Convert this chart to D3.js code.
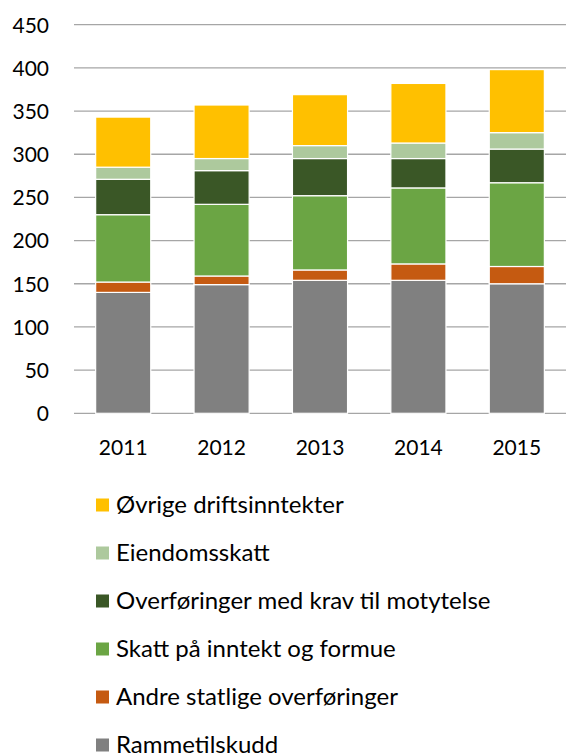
<!DOCTYPE html>
<html lang="no">
<head>
<meta charset="UTF-8">
<title>Driftsinntekter</title>
<script src="https://d3js.org/d3.v7.min.js"></script>
<style>
    body { margin: 0; background: #fff; font-family: Lato, "Open Sans", sans-serif; }
    .chart text { fill: #000; }
</style>
</head>
<body>
<div class="chart"></div>
<script>
    const years = ['2011', '2012', '2013', '2014', '2015'];
    const series = ['Rammetilskudd', 'Andre statlige overføringer', 'Skatt på inntekt og formue',
        'Overføringer med krav til motytelse', 'Eiendomsskatt', 'Øvrige driftsinntekter'];
    const colors = ['#808080', '#c55a11', '#6ba544', '#3a5726', '#adc99d', '#ffc000'];
    const rammetilskudd = [140, 149, 154, 154, 150];
    const andreStatlige = [12, 10, 12, 19, 20];
    const skatt = [78, 83, 86, 88, 97];
    const overforinger = [41, 39, 43, 34, 39];
    const eiendomsskatt = [14, 14, 15, 18, 19];
    const ovrige = [58, 62, 59, 69, 73];
    const yTicks = [0, 50, 100, 150, 200, 250, 300, 350, 400, 450];

    const values = [rammetilskudd, andreStatlige, skatt, overforinger, eiendomsskatt, ovrige];
    const rows = years.map((y, i) => {
        let r = {year: y};
        series.forEach((s, k) => r[s] = values[k][i]);
        return r;
    });

    const W = 566, H = 755;
    const svg = d3.select('.chart').append('svg').attr('width', W).attr('height', H);

    const x = d3.scaleBand().domain(years).range([74, 566]).paddingInner(0.44).paddingOuter(0.22);
    const y = d3.scaleLinear().domain([0, 450]).range([413.3, 24.7]);

    // grille
    svg.append('g').selectAll('line')
        .data(yTicks)
        .enter().append('line')
        .attr('x1', 74).attr('x2', 566)
        .attr('y1', d => y(d)).attr('y2', d => y(d))
        .attr('stroke', '#a6a6a6').attr('stroke-width', 1.3);

    // axe y
    const yAxis = svg.append('g').attr('transform', 'translate(49,0)')
        .call(d3.axisLeft(y).tickValues(yTicks).tickSize(0).tickPadding(0));
    yAxis.select('.domain').remove();
    yAxis.selectAll('text').attr('font-size', 21).attr('font-family', 'Lato, sans-serif')
        .attr('fill', '#000').attr('dy', '0.35em');

    // barres empilées
    const stack = d3.stack().keys(series)(rows);
    svg.append('g').selectAll('g')
        .data(stack)
        .enter().append('g')
        .attr('fill', (d, i) => colors[i])
        .selectAll('rect')
        .data(d => d)
        .enter().append('rect')
        .attr('x', d => x(d.data.year))
        .attr('width', x.bandwidth())
        .attr('y', d => y(d[1]))
        .attr('height', d => y(d[0]) - y(d[1]))
        .attr('stroke', '#fff').attr('stroke-width', 1.2);

    // axe x
    const xAxis = svg.append('g').attr('transform', 'translate(0,413.3)')
        .call(d3.axisBottom(x).tickSize(0).tickPadding(0));
    xAxis.select('.domain').remove();
    xAxis.selectAll('text').attr('font-size', 21).attr('font-family', 'Lato, sans-serif')
        .attr('fill', '#000').attr('dy', '0').attr('y', 42);

    // légende
    const leg = svg.append('g').selectAll('g')
        .data(series.slice().reverse())
        .enter().append('g')
        .attr('transform', (d, i) => 'translate(96,' + (505 + i * 48) + ')');
    leg.append('rect')
        .attr('x', 0).attr('y', -6.5).attr('width', 13).attr('height', 13)
        .attr('fill', d => colors[series.indexOf(d)]);
    leg.append('text')
        .attr('x', 20).attr('dy', '0.35em')
        .attr('font-size', 24)
        .text(d => d);
</script>
</body>
</html>
